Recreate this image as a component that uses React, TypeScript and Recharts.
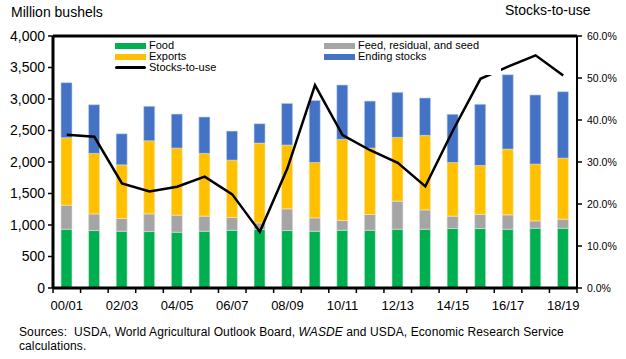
import {
  ComposedChart, Bar, Line, ReferenceLine,
  XAxis as XAxisType, YAxis as YAxisType
} from 'recharts';

const XAxis = XAxisType as any;
const YAxis = YAxisType as any;

const years = [
  '00/01', '01/02', '02/03', '03/04', '04/05', '05/06', '06/07', '07/08', '08/09', '09/10',
  '10/11', '11/12', '12/13', '13/14', '14/15', '15/16', '16/17', '17/18', '18/19'
];
// million bushels
const food = [933, 912, 901, 896, 885, 901, 917, 928, 912, 901, 917, 917, 933, 933, 944, 944, 933, 949, 949];
const feed = [382, 264, 202, 280, 271, 239, 202, 105, 344, 212, 154, 250, 445, 307, 196, 223, 228, 116, 143];
const exportsV = [1070, 961, 852, 1161, 1065, 997, 911, 1267, 1013, 880, 1288, 1054, 1013, 1183, 853, 779, 1044, 902, 970];
const endingStocks = [874, 772, 493, 547, 540, 577, 461, 307, 661, 984, 863, 746, 715, 593, 764, 970, 1181, 1097, 1054];
// percent
const stocksToUse = [36.5, 36.0, 24.9, 23.0, 24.1, 26.5, 22.3, 13.4, 28.5, 48.3, 36.4, 32.8, 29.8, 24.2, 37.5, 49.8, 52.7, 55.4, 50.6];

const leftTicks = [0, 500, 1000, 1500, 2000, 2500, 3000, 3500, 4000];
const rightTicks = [0, 10, 20, 30, 40, 50, 60];

const data = years.map((y, i) => ({
  year: y,
  food: food[i],
  feed: feed[i],
  exports: exportsV[i],
  stocks: endingStocks[i],
  ratio: stocksToUse[i]
}));

const FONT = '"Liberation Sans", Arial, sans-serif';
const PLOT_LEFT = 53;
const PLOT_RIGHT = 577;
const PLOT_BOTTOM = 288;
const STEP = (PLOT_RIGHT - PLOT_LEFT) / years.length;

const XTick = (props: any) => {
  const { x, index, payload } = props;
  const last = index === years.length - 1;
  return (
    <g>
      <line x1={x - STEP / 2} x2={x - STEP / 2} y1={PLOT_BOTTOM} y2={PLOT_BOTTOM + 5} stroke="#000" strokeWidth={1.5} />
      {last && (
        <line x1={x + STEP / 2} x2={x + STEP / 2} y1={PLOT_BOTTOM} y2={PLOT_BOTTOM + 5} stroke="#000" strokeWidth={1.5} />
      )}
      {index % 2 === 0 && (
        <text x={x} y={310} textAnchor="middle" fontSize={13} fontFamily={FONT} fill="#000">
          {payload.value}
        </text>
      )}
    </g>
  );
};

const legendLeft = [
  { name: 'Food', color: '#00B050', kind: 'box' },
  { name: 'Exports', color: '#FFC000', kind: 'box' },
  { name: 'Stocks-to-use', color: '#000', kind: 'line' }
];
const legendRight = [
  { name: 'Feed, residual, and seed', color: '#A5A5A5', kind: 'box' },
  { name: 'Ending stocks', color: '#4472C4', kind: 'box' }
];

function LegendRow({ item, top, left }: any) {
  return (
    <div style={{ position: 'absolute', left, top, height: 11, display: 'flex', alignItems: 'center' }}>
      <div style={{
        width: 31,
        height: item.kind === 'box' ? 6 : 3,
        background: item.color,
        borderRadius: item.kind === 'line' ? 2 : 0,
        marginRight: 3
      }} />
      <span style={{ fontSize: 11, fontFamily: FONT, color: '#000', lineHeight: '11px', whiteSpace: 'nowrap' }}>
        {item.name}
      </span>
    </div>
  );
}

export default function App() {
  return (
    <div style={{ position: 'absolute', left: 0, top: 0, width: 626, height: 359, background: '#fff', fontFamily: FONT }}>
      <div style={{ position: 'absolute', left: 11, top: 4, fontSize: 14, color: '#000' }}>Million bushels</div>
      <div style={{ position: 'absolute', left: 505, top: 2, fontSize: 14, color: '#000' }}>Stocks-to-use</div>

      <ComposedChart
        width={626}
        height={318}
        data={data}
        margin={{ top: 36, right: 0, left: 0, bottom: 0 }}
        barCategoryGap={0}
      >
        <XAxis
          dataKey="year"
          height={30}
          interval={0}
          axisLine={{ stroke: '#000', strokeWidth: 3 }}
          tickLine={false}
          tick={<XTick />}
        />
        <YAxis
          yAxisId="left"
          width={53}
          domain={[0, 4000]}
          ticks={leftTicks}
          tickFormatter={(v: number) => v.toLocaleString('en-US')}
          axisLine={{ stroke: '#000', strokeWidth: 3 }}
          tickLine={{ stroke: '#000', strokeWidth: 1.5 }}
          tickSize={5}
          tickMargin={3}
          tick={{ fontSize: 14, fill: '#000', fontFamily: FONT }}
        />
        <YAxis
          yAxisId="right"
          orientation="right"
          width={49}
          domain={[0, 60]}
          ticks={rightTicks}
          tickFormatter={(v: number) => `${v.toFixed(1)}%`}
          axisLine={{ stroke: '#000', strokeWidth: 2 }}
          tickLine={{ stroke: '#000', strokeWidth: 1.5 }}
          tickSize={5}
          tickMargin={5}
          tick={{ fontSize: 10.5, fill: '#000', fontFamily: FONT }}
        />
        <ReferenceLine yAxisId="left" y={4000} stroke="#000" strokeWidth={3} />
        <Bar yAxisId="left" dataKey="food" stackId="a" fill="#00B050" barSize={11} stroke="#d9f0e0" strokeWidth={0.6} isAnimationActive={false} />
        <Bar yAxisId="left" dataKey="feed" stackId="a" fill="#A5A5A5" barSize={11} stroke="#dedede" strokeWidth={0.6} isAnimationActive={false} />
        <Bar yAxisId="left" dataKey="exports" stackId="a" fill="#FFC000" barSize={11} stroke="#fde9b8" strokeWidth={0.6} isAnimationActive={false} />
        <Bar yAxisId="left" dataKey="stocks" stackId="a" fill="#4472C4" barSize={11} stroke="#c5d3ee" strokeWidth={0.6} isAnimationActive={false} />
        <Line
          yAxisId="right"
          dataKey="ratio"
          type="linear"
          stroke="#000"
          strokeWidth={2.5}
          dot={false}
          activeDot={false}
          isAnimationActive={false}
        />
      </ComposedChart>

      <div style={{ position: 'absolute', left: 106, top: 40, width: 395, height: 35, background: '#fff' }}>
        {legendLeft.map((it, i) => (
          <LegendRow key={it.name} item={it} left={9} top={i * 11} />
        ))}
        {legendRight.map((it, i) => (
          <LegendRow key={it.name} item={it} left={218} top={i * 11} />
        ))}
      </div>

      <div style={{ position: 'absolute', left: 19, top: 325, fontSize: 12, lineHeight: '14px', color: '#000', letterSpacing: 0.1 }}>
        Sources:&nbsp; USDA, World Agricultural Outlook Board, <i>WASDE</i> and USDA, Economic Research Service
        <br />
        calculations.
      </div>
    </div>
  );
}
